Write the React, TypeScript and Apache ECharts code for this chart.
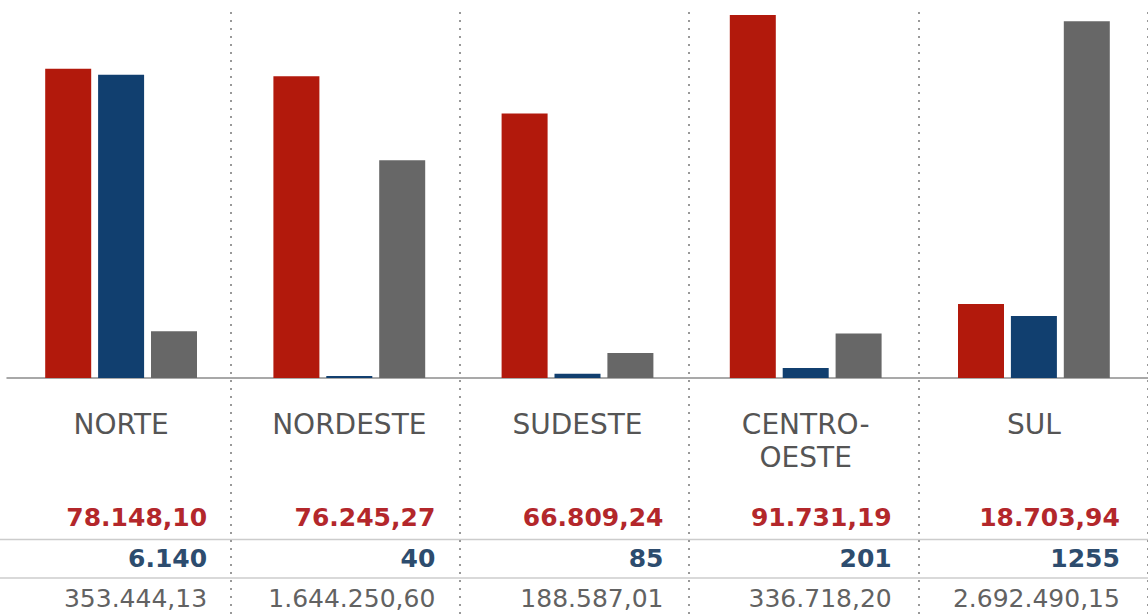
import React, { useEffect, useRef } from "react";
import * as echarts from "echarts";

const categories = ["NORTE", "NORDESTE", "SUDESTE", "CENTRO-\nOESTE", "SUL"];
const redValues = [78148.1, 76245.27, 66809.24, 91731.19, 18703.94];
const blueValues = [6140, 40, 85, 201, 1255];
const grayValues = [353444.13, 1644250.6, 188587.01, 336718.2, 2692490.15];
const redLabels = ["78.148,10", "76.245,27", "66.809,24", "91.731,19", "18.703,94"];
const blueLabels = ["6.140", "40", "85", "201", "1255"];
const grayLabels = ["353.444,13", "1.644.250,60", "188.587,01", "336.718,20", "2.692.490,15"];

const RED = "#b2190c";
const BLUE = "#113f6f";
const GRAY = "#676767";
const FONT = "DejaVu Sans";

export default function App() {
  const ref = useRef<HTMLDivElement>(null);
  useEffect(() => {
    if (!ref.current) return;
    const chart = echarts.init(ref.current, undefined, { renderer: "svg" });
    const W = 172;
    chart.setOption({
      animation: false,
      backgroundColor: "#ffffff",
      grid: [
        { left: 7, top: 15, width: 1145, bottom: 236 },
        { left: 1, top: 12, width: 1148, bottom: 0 },
      ],
      xAxis: [
        {
          type: "category",
          gridIndex: 0,
          data: categories,
          boundaryGap: true,
          axisLine: { show: true, lineStyle: { color: "#8c8c8c", width: 1.5 } },
          axisTick: { show: false },
          splitLine: { show: false },
          axisLabel: {
            interval: 0,
            margin: 29.5,
            align: "center",
            formatter: (value: string, index: number) => {
              const names = value.split("\n").map((l) => `{n|${l}}`);
              while (names.length < 2) names.push("{n| }");
              return [
                ...names,
                "{gap| }",
                `{r|${redLabels[index]}}`,
                `{b|${blueLabels[index]}}`,
                `{g|${grayLabels[index]}}`,
              ].join("\n");
            },
            rich: {
              n: { width: W, align: "center", fontFamily: FONT, fontSize: 28, lineHeight: 33, color: "#555555" },
              gap: { width: W, fontSize: 10, lineHeight: 22.75 },
              r: { width: W, align: "right", fontFamily: FONT, fontWeight: "bold", fontSize: 25, lineHeight: 41.5, color: "#b3272b" },
              b: { width: W, align: "right", fontFamily: FONT, fontWeight: "bold", fontSize: 25, lineHeight: 41.5, color: "#2d4c6e" },
              g: { width: W, align: "right", fontFamily: FONT, fontSize: 25, lineHeight: 38, color: "#626262" },
            },
          },
        },
        {
          type: "category",
          gridIndex: 1,
          data: categories,
          boundaryGap: true,
          axisLine: { show: false },
          axisTick: { show: false },
          axisLabel: { show: false },
          splitLine: {
            show: true,
            interval: (i: number) => i > 0,
            lineStyle: { color: "#999999", width: 2, type: [2, 6] },
          },
        },
      ],
      yAxis: [
        { type: "value", gridIndex: 0, min: 0, max: 91731, show: false, splitLine: { show: false } },
        { type: "value", gridIndex: 0, min: 0, max: 7350, show: false, splitLine: { show: false } },
        { type: "value", gridIndex: 0, min: 0, max: 2740000, show: false, splitLine: { show: false } },
        { type: "value", gridIndex: 1, min: 0, max: 1, show: false, splitLine: { show: false } },
      ],
      graphic: [
        { type: "line", shape: { x1: 0, y1: 539.5, x2: 1148, y2: 539.5 }, style: { stroke: "#cccccc", lineWidth: 1.5 } },
        { type: "line", shape: { x1: 0, y1: 578, x2: 1148, y2: 578 }, style: { stroke: "#cccccc", lineWidth: 1.5 } },
      ],
      series: [
        { type: "bar", xAxisIndex: 0, yAxisIndex: 0, data: redValues, barWidth: 46, barGap: "15%", itemStyle: { color: RED } },
        { type: "bar", xAxisIndex: 0, yAxisIndex: 1, data: blueValues, barWidth: 46, barGap: "15%", barMinHeight: 2, itemStyle: { color: BLUE } },
        { type: "bar", xAxisIndex: 0, yAxisIndex: 2, data: grayValues, barWidth: 46, barGap: "15%", itemStyle: { color: GRAY } },
      ],
    });
    return () => chart.dispose();
  }, []);
  return (
    <div
      ref={ref}
      style={{ position: "absolute", left: 0, top: 0, width: 1148, height: 614 }}
    />
  );
}
